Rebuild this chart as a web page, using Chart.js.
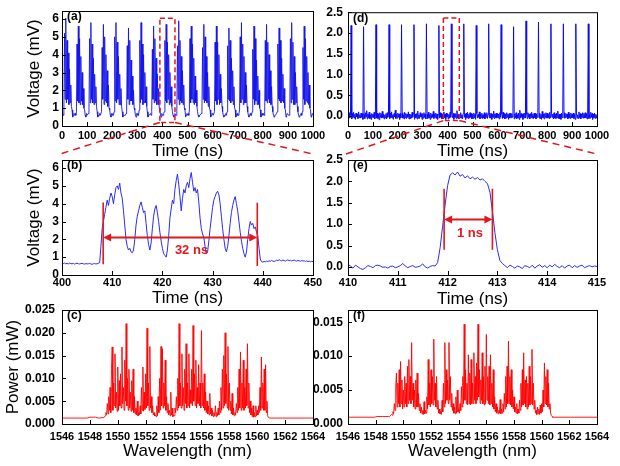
<!DOCTYPE html>
<html>
<head>
<meta charset="utf-8">
<script src="https://cdn.jsdelivr.net/npm/chart.js@4.4.1/dist/chart.umd.min.js"></script>
<style>
  body { margin: 0; background: #fff; }
  #wrap { position: relative; width: 620px; height: 466px; }
  #wrap canvas { position: absolute; left: 0; top: 0; }
</style>
</head>
<body>
<div id="wrap">
  <canvas id="cA" width="620" height="466"></canvas>
  <canvas id="cB" width="620" height="466"></canvas>
  <canvas id="cC" width="620" height="466"></canvas>
  <canvas id="cD" width="620" height="466"></canvas>
  <canvas id="cE" width="620" height="466"></canvas>
  <canvas id="cF" width="620" height="466"></canvas>
  <canvas id="overlay" width="620" height="466"></canvas>
</div>
<script>
// (a) chaotic pulse train, 0-1000 ns, one sample every 2.5 ns
const stepA = 2.5;
const voltA = [
  0.6,0.7,0.6,0.8, 5.2,1.5,6.05,1.3,4.8,1.5,4.1,1.2,3.2,1.3,2.3,1.1, 0.9,0.5,0.6,0.7,
  0.6,0.7,0.6,0.8, 4.6,1.4,5.6,1.3,4.9,1.2,3.9,1.4,3.0,1.2,2.1,1.0, 0.9,0.6,0.5,0.7,
  0.6,0.6,0.7,0.9, 4.9,1.3,5.8,1.5,4.6,1.3,3.8,1.2,2.9,1.3,2.2,1.1, 0.8,0.5,0.6,0.6,
  0.7,0.6,0.6,0.8, 4.4,1.5,5.7,1.2,5.0,1.4,4.0,1.3,3.1,1.1,2.3,1.0, 0.9,0.6,0.5,0.7,
  0.6,0.7,0.6,0.8, 5.0,1.4,5.8,1.3,4.7,1.5,3.9,1.2,2.9,1.2,2.1,1.1, 0.8,0.5,0.6,0.6,
  0.6,0.6,0.7,0.8, 4.5,1.5,5.5,1.2,4.8,1.4,3.7,1.4,2.8,1.2,2.0,1.0, 0.9,0.6,0.5,0.7,
  0.7,0.6,0.6,0.9, 4.8,1.3,5.8,1.5,4.6,1.2,4.0,1.3,3.0,1.3,2.2,1.1, 0.8,0.5,0.6,0.6,
  0.6,0.7,0.6,0.8, 4.3,1.5,5.6,1.3,4.9,1.4,3.8,1.2,2.9,1.2,2.1,1.0, 0.9,0.6,0.5,0.7,
  0.6,0.6,0.7,0.8, 4.8,1.4,5.7,1.3,4.7,1.5,4.0,1.2,3.0,1.3,2.2,1.1, 0.8,0.6,0.5,0.6,
  0.7,0.6,0.6,0.8, 4.5,1.5,5.9,1.2,4.8,1.4,3.9,1.3,3.1,1.2,2.3,1.0, 0.9,0.5,0.6,0.7,
  0.6,0.7,0.6,0.9, 4.9,1.3,5.6,1.5,4.6,1.3,3.8,1.2,2.8,1.3,2.0,1.1, 0.8,0.6,0.5,0.6,
  0.6,0.6,0.7,0.8, 4.4,1.5,5.7,1.3,5.0,1.4,3.9,1.3,3.0,1.1,2.2,1.0, 0.9,0.5,0.6,0.7,
  0.7,0.6,0.6,0.8, 4.7,1.4,5.6,1.2,4.7,1.5,4.0,1.2,2.9,1.3,2.1,1.1, 0.8,0.6,0.5,0.6,
  0.6,0.7,0.6,0.8, 4.5,1.5,5.5,1.4,4.8,1.3,3.8,1.4,3.1,1.2,2.2,1.0, 0.9,0.5,0.6,0.7,
  0.6,0.6,0.7,0.9, 5.0,1.3,5.8,1.5,4.6,1.2,3.9,1.3,3.0,1.3,2.3,1.1, 0.8,0.6,0.5,0.6,
  0.7,0.6,0.6,0.8, 4.3,1.5,5.6,1.2,4.9,1.4,3.7,1.2,2.8,1.2,2.0,1.0, 0.9,0.5,0.6,0.7,
  0.6,0.7,0.6,0.8, 4.8,1.4,5.7,1.3,4.7,1.5,4.0,1.3,3.1,1.2,2.2,1.1, 0.8,0.6,0.5,0.6,
  0.6,0.6,0.7,0.8, 4.6,1.5,5.5,1.4,4.8,1.3,3.8,1.4,2.9,1.3,2.1,1.0, 0.9,0.5,0.6,0.7,
  0.7,0.6,0.6,0.9, 4.9,1.3,5.8,1.5,4.7,1.2,3.9,1.2,3.0,1.3,2.2,1.1, 0.8,0.6,0.5,0.6,
  0.6,0.7,0.6,0.8, 4.4,1.5,5.6,1.2,4.9,1.4,3.9,1.3,3.0,1.2,2.3,1.0, 0.9,0.5,0.6,0.7,
  0.6
];

// (b) zoom of one pulse, 400-450 ns, one sample every 0.25 ns
const startB = 400, stepB = 0.25;
const voltB = [
  0.66,0.64,0.67,0.63,0.65,0.62,0.66,0.64,0.63,0.65,
  0.61,0.64,0.66,0.63,0.62,0.64,0.65,0.63,0.61,0.64,
  0.62,0.63,0.65,0.62,0.60,0.63,0.64,0.62,0.63,0.66,0.68,
  1.6,
  2.6,3.0,3.4,3.8, 4.2,3.9,4.3,4.6, 4.4,4.0,4.5,4.9, 5.0,4.8,5.15,4.6,
  4.3,3.6,2.8,2.0, 1.6,1.4,1.5,1.3, 1.25,1.4,2.0,2.8, 3.3,3.6,3.9,4.1,
  3.8,3.5,3.6,2.9, 2.2,1.7,1.4,1.8, 2.6,3.3,3.7,3.9, 3.5,3.0,2.4,1.9,
  1.5,1.2,1.1,1.0, 1.4,2.2,3.2,3.7, 4.2,4.0,4.8,5.3, 5.66,5.1,4.4,3.6,
  4.3,4.8,4.6,5.0, 5.2,4.9,5.4,5.75, 5.2,4.7,4.9,4.6, 4.8,4.1,3.2,2.6,
  2.3,2.1,1.6,1.2, 1.3,1.9,2.6,3.2, 3.8,4.2,4.4,4.6, 4.7,4.5,4.0,3.3,
  2.6,2.0,1.5,1.3, 1.6,2.2,2.9,3.5, 3.9,4.2,4.4,4.0, 3.6,3.0,2.4,1.9,
  1.5,1.2,1.0,1.3, 2.0,2.6,3.0,2.8, 2.9,2.6,2.7,2.4, 2.2,1.5,0.9,0.75,
  0.72,
  0.76,0.74,0.78,0.75,0.80,0.77,0.82,0.78,0.76,0.79,
  0.83,0.80,0.86,0.82,0.79,0.84,0.81,0.78,0.82,0.85,
  0.80,0.83,0.79,0.81,0.84,0.80,0.78,0.82,0.79,0.77,
  0.81,0.78,0.80,0.76,0.79,0.75,0.78,0.74,0.77,0.75
];

// (d) regular pulse train, 0-1000 ns, one sample every 2.5 ns
const stepD = 2.5;
const voltD = [
  0.03,-0.06,0.08,-0.04,0.05,2.18,-0.07,0.06,-0.03,0.09,-0.05,0.04,-0.08,0.07,-0.02,0.05,-0.06,0.10,-0.04,0.03,
  -0.05,0.07,-0.03,0.06,-0.08,2.15,0.04,-0.06,0.08,-0.02,0.13,-0.07,0.05,-0.04,0.09,-0.06,0.03,-0.08,0.06,-0.03,
  0.05,-0.04,0.09,-0.07,0.02,2.20,-0.05,0.07,-0.06,0.04,-0.09,0.08,-0.03,0.06,-0.05,0.11,-0.04,0.05,-0.07,0.03,
  -0.04,0.06,-0.07,0.08,-0.03,0.05,2.20,-0.06,0.07,-0.04,0.10,-0.05,0.03,-0.08,0.06,-0.02,0.14,-0.06,0.04,-0.05,
  0.07,-0.03,0.05,-0.08,0.06,-0.04,2.20,0.08,-0.05,0.03,-0.07,0.09,-0.04,0.06,-0.06,0.04,-0.03,0.10,-0.07,0.05,
  -0.06,0.04,-0.05,0.09,-0.03,0.07,2.20,-0.08,0.05,-0.04,0.06,-0.07,0.12,-0.05,0.03,-0.06,0.08,-0.02,0.05,-0.08,
  0.06,-0.05,0.08,-0.03,0.04,-0.07,2.22,0.05,-0.06,0.09,-0.04,0.03,-0.08,0.07,-0.05,0.04,-0.03,0.11,-0.06,0.04,
  -0.03,0.07,-0.06,0.05,-0.08,0.04,2.18,-0.05,0.08,-0.03,0.06,-0.07,0.04,-0.05,0.10,-0.04,0.05,-0.08,0.07,-0.02,
  0.05,-0.07,0.04,-0.05,0.09,-0.03,2.22,0.06,-0.04,0.07,-0.08,0.05,-0.03,0.06,-0.06,0.13,-0.05,0.04,-0.07,0.05,
  -0.04,0.08,-0.05,0.03,-0.07,0.06,2.22,-0.03,0.05,-0.08,0.07,-0.04,0.09,-0.06,0.04,-0.05,0.08,-0.03,0.06,-0.07,
  0.04,-0.06,0.07,-0.04,0.05,-0.08,2.18,0.06,-0.05,0.04,-0.03,0.10,-0.07,0.05,-0.04,0.07,-0.06,0.03,-0.05,0.08,
  -0.07,0.05,-0.03,0.08,-0.06,0.04,2.22,-0.04,0.07,-0.05,0.06,-0.08,0.04,-0.03,0.12,-0.06,0.05,-0.04,0.07,-0.05,
  0.06,-0.04,0.05,-0.07,0.08,-0.03,2.20,0.05,-0.06,0.09,-0.04,0.06,-0.07,0.04,-0.05,0.08,-0.03,0.05,-0.08,0.06,
  -0.05,0.07,-0.04,0.06,-0.03,0.10,2.15,-0.07,0.05,-0.04,0.08,-0.06,0.03,-0.05,0.07,-0.08,0.14,-0.04,0.06,-0.03,
  0.05,-0.08,0.06,-0.04,0.07,-0.05,2.29,0.04,-0.06,0.08,-0.03,0.05,-0.07,0.06,-0.04,0.09,-0.05,0.04,-0.06,0.07,
  -0.04,0.06,-0.07,0.05,-0.03,0.08,2.26,-0.05,0.07,-0.06,0.04,-0.08,0.11,-0.04,0.05,-0.07,0.06,-0.03,0.08,-0.05,
  0.07,-0.05,0.04,-0.06,0.09,-0.04,2.22,0.06,-0.03,0.05,-0.07,0.08,-0.05,0.04,-0.06,0.07,-0.04,0.12,-0.06,0.04,
  -0.06,0.05,-0.08,0.07,-0.04,0.06,2.22,-0.05,0.08,-0.04,0.06,-0.03,0.05,-0.07,0.09,-0.05,0.04,-0.06,0.07,-0.04,
  0.05,-0.04,0.07,-0.06,0.04,-0.08,2.22,0.07,-0.05,0.03,-0.06,0.10,-0.04,0.06,-0.07,0.05,-0.03,0.08,-0.05,0.06,
  -0.05,0.08,-0.04,0.06,-0.07,0.05,2.22,-0.06,0.04,-0.05,0.09,-0.03,0.06,-0.08,0.05,-0.04,0.07,-0.06,0.04,-0.05,
  0.03
];

// (e) zoom of one pulse, 410-415 ns, one sample every 0.05 ns
const startE = 410, stepE = 0.05;
const voltE = [
  0.06,0.02,-0.03,0.04,0.0,-0.04,-0.06,-0.02,0.03,0.01,
  -0.02,0.03,0.04,0.02,-0.01,0.0,-0.03,0.01,0.02,-0.02,
  0.0,0.03,0.08,0.02,-0.02,0.01,0.03,-0.01,0.0,0.02,
  0.07,0.0,-0.03,0.01,0.03,0.02,
  0.1,0.45,0.95,1.45,1.9,2.15,2.2,2.15,2.22,2.12,2.16,2.08,2.13,2.06,2.1,2.05,2.09,2.03,2.06,2.0,
  1.95,1.75,1.3,0.8,0.4,0.15,0.08,
  0.03,-0.02,0.04,0.01,-0.03,0.02,0.0,-0.04,0.03,0.01,
  -0.02,0.04,-0.03,0.02,0.05,-0.01,0.03,-0.02,0.04,0.0,
  0.06,0.01,-0.02,0.03,-0.03,0.02,0.04,-0.02,0.03,-0.01,
  0.02,0.04,-0.02,0.01,0.03,0.0,0.02,0.01
];

// (c) and (f) optical spectra: flat edges plus a 0.05 nm grid from 1549.00 to 1560.80
const specStart = 1549, specStep = 0.05;
const edgeLeftC = [1546, 1547.8, 1548.0, 1548.4, 1548.6, 1548.95];
const edgeLeftPC = [0.0013, 0.0013, 0.0015, 0.0015, 0.0013, 0.0014];
const edgeRightC = [1560.9, 1561.3, 1564];
const edgeRightPC = [0.0013, 0.0013, 0.0013];
const powerC = [
  0.0015,0.0016,0.0018,0.0025,0.0020,0.0045,0.0022,0.0060,0.0030,0.0080,0.0025,0.0120,0.0169,0.0030,0.0090,0.0040,0.0154,0.0035,0.0070,0.0028,
  0.0125,0.0030,0.0095,0.0040,0.0110,0.0035,0.0169,0.0045,0.0080,0.0030,0.0140,0.0050,0.0220,0.0040,0.0100,0.0030,0.0120,0.0035,0.0070,0.0028,
  0.0095,0.0030,0.0120,0.0025,0.0060,0.0022,0.0035,0.0020,0.0050,0.0018,0.0025,0.0020,0.0040,0.0022,0.0080,0.0030,0.0125,0.0028,0.0070,0.0032,
  0.0110,0.0035,0.0210,0.0040,0.0090,0.0030,0.0170,0.0035,0.0060,0.0025,0.0040,0.0020,0.0025,0.0018,0.0020,0.0016,0.0040,0.0018,0.0060,0.0025,
  0.0100,0.0030,0.0170,0.0040,0.0165,0.0035,0.0090,0.0040,0.0140,0.0030,0.0060,0.0025,0.0045,0.0020,0.0030,0.0018,0.0070,0.0020,0.0035,0.0016,
  0.0020,0.0018,0.0035,0.0025,0.0060,0.0030,0.0100,0.0035,0.0220,0.0040,0.0090,0.0035,0.0154,0.0040,0.0080,0.0030,0.0120,0.0045,0.0176,0.0035,
  0.0090,0.0040,0.0154,0.0035,0.0075,0.0045,0.0120,0.0040,0.0216,0.0050,0.0110,0.0040,0.0140,0.0035,0.0080,0.0045,0.0130,0.0040,0.0090,0.0035,
  0.0205,0.0040,0.0090,0.0035,0.0110,0.0030,0.0070,0.0025,0.0050,0.0022,0.0040,0.0020,0.0067,0.0022,0.0035,0.0018,0.0030,0.0016,0.0025,0.0018,
  0.0040,0.0016,0.0025,0.0018,0.0035,0.0020,0.0050,0.0025,0.0080,0.0030,0.0120,0.0035,0.0150,0.0040,0.0200,0.0045,0.0110,0.0035,0.0170,0.0030,
  0.0090,0.0030,0.0050,0.0022,0.0067,0.0020,0.0035,0.0018,0.0025,0.0020,0.0045,0.0025,0.0080,0.0030,0.0120,0.0035,0.0158,0.0030,0.0090,0.0035,
  0.0140,0.0030,0.0080,0.0035,0.0120,0.0040,0.0176,0.0035,0.0090,0.0025,0.0050,0.0020,0.0035,0.0016,0.0040,0.0015,0.0025,0.0016,0.0040,0.0018,
  0.0030,0.0020,0.0040,0.0025,0.0080,0.0030,0.0147,0.0035,0.0090,0.0030,0.0120,0.0030,0.0130,0.0025,0.0050,0.0018,0.0014
];
const edgeLeftF = [1546, 1547.9, 1548.1, 1548.5, 1548.95];
const edgeLeftPF = [0.0010, 0.0010, 0.0011, 0.0011, 0.0011];
const edgeRightF = [1560.9, 1564];
const edgeRightPF = [0.0010, 0.0010];
const powerF = [
  0.0011,0.0012,0.0012,0.0014,0.0013,0.0018,0.0015,0.0030,0.0020,0.0055,0.0075,0.0025,0.0060,0.0030,0.0080,0.0025,0.0092,0.0030,0.0065,0.0022,
  0.0050,0.0025,0.0070,0.0030,0.0060,0.0025,0.0085,0.0030,0.0095,0.0035,0.0070,0.0030,0.0120,0.0035,0.0060,0.0025,0.0050,0.0022,0.0065,0.0025,
  0.0075,0.0025,0.0045,0.0020,0.0030,0.0016,0.0025,0.0015,0.0020,0.0014,0.0033,0.0015,0.0020,0.0016,0.0040,0.0022,0.0095,0.0028,0.0060,0.0025,
  0.0080,0.0030,0.0070,0.0028,0.0125,0.0035,0.0060,0.0025,0.0070,0.0022,0.0035,0.0016,0.0022,0.0015,0.0018,0.0014,0.0035,0.0018,0.0060,0.0025,
  0.0120,0.0030,0.0080,0.0035,0.0065,0.0030,0.0120,0.0035,0.0070,0.0025,0.0045,0.0020,0.0030,0.0016,0.0025,0.0015,0.0040,0.0016,0.0050,0.0018,
  0.0022,0.0016,0.0030,0.0020,0.0055,0.0025,0.0070,0.0030,0.0147,0.0035,0.0080,0.0030,0.0060,0.0028,0.0102,0.0030,0.0075,0.0028,0.0095,0.0030,
  0.0060,0.0030,0.0105,0.0035,0.0070,0.0030,0.0090,0.0035,0.0147,0.0040,0.0080,0.0030,0.0065,0.0035,0.0105,0.0030,0.0070,0.0028,0.0085,0.0030,
  0.0132,0.0035,0.0070,0.0030,0.0085,0.0028,0.0102,0.0030,0.0060,0.0025,0.0080,0.0022,0.0040,0.0018,0.0030,0.0016,0.0025,0.0015,0.0020,0.0016,
  0.0036,0.0015,0.0022,0.0016,0.0030,0.0018,0.0045,0.0022,0.0070,0.0025,0.0085,0.0030,0.0122,0.0030,0.0070,0.0028,0.0080,0.0025,0.0050,0.0022,
  0.0040,0.0018,0.0025,0.0016,0.0030,0.0015,0.0022,0.0016,0.0035,0.0020,0.0060,0.0025,0.0080,0.0028,0.0105,0.0030,0.0065,0.0025,0.0070,0.0022,
  0.0060,0.0025,0.0085,0.0028,0.0070,0.0030,0.0110,0.0028,0.0060,0.0022,0.0035,0.0016,0.0020,0.0014,0.0025,0.0015,0.0022,0.0014,0.0028,0.0016,
  0.0030,0.0018,0.0050,0.0025,0.0090,0.0030,0.0070,0.0028,0.0080,0.0025,0.0060,0.0022,0.0030,0.0016,0.0012,0.0011,0.0010
];

// annotation positions, in data units
const boxA = { x1: 390, x2: 450, y1: 0.2, y2: 6.04 };
const boxD = { x1: 383, x2: 447, y1: -0.11, y2: 2.36 };
const markB = { x1: 408.2, x2: 438.9, top1: 4.07, bot1: 0.6, top2: 4.05, bot2: 0.5, arrowY: 2.1, textX: 425.8, textY: 1.37, text: '32 ns' };
const markE = { x1: 411.93, x2: 412.9, top1: 1.83, bot1: 0.4, top2: 1.83, bot2: 0.4, arrowY: 1.11, textX: 412.45, textY: 0.78, text: '1 ns' };

const FONT = "'Liberation Sans', Arial, Helvetica, sans-serif";
const RED = '#e3161c';

function uniform(values, start, step) {
  return values.map((y, i) => ({ x: start + i * step, y }));
}

function spectrum(leftX, leftY, core, rightX, rightY) {
  const pts = leftX.map((x, i) => ({ x, y: leftY[i] }));
  core.forEach((y, i) => pts.push({ x: specStart + i * specStep, y }));
  rightX.forEach((x, i) => pts.push({ x, y: rightY[i] }));
  return pts;
}

function drawMark(ctx, s, m) {
  const x1 = s.x.getPixelForValue(m.x1);
  const x2 = s.x.getPixelForValue(m.x2);
  const ya = s.y.getPixelForValue(m.arrowY);
  ctx.strokeStyle = RED;
  ctx.fillStyle = RED;
  ctx.lineWidth = 1.6;
  ctx.beginPath();
  ctx.moveTo(x1, s.y.getPixelForValue(m.top1));
  ctx.lineTo(x1, s.y.getPixelForValue(m.bot1));
  ctx.moveTo(x2, s.y.getPixelForValue(m.top2));
  ctx.lineTo(x2, s.y.getPixelForValue(m.bot2));
  ctx.stroke();
  ctx.lineWidth = 2;
  ctx.beginPath();
  ctx.moveTo(x1 + 6, ya);
  ctx.lineTo(x2 - 6, ya);
  ctx.stroke();
  ctx.beginPath();
  ctx.moveTo(x1, ya); ctx.lineTo(x1 + 8, ya - 4); ctx.lineTo(x1 + 8, ya + 4); ctx.closePath();
  ctx.moveTo(x2, ya); ctx.lineTo(x2 - 8, ya - 4); ctx.lineTo(x2 - 8, ya + 4); ctx.closePath();
  ctx.fill();
  ctx.font = 'bold 13px ' + FONT;
  ctx.textAlign = 'center';
  ctx.textBaseline = 'middle';
  ctx.fillText(m.text, s.x.getPixelForValue(m.textX), s.y.getPixelForValue(m.textY));
}

function drawBox(ctx, s, b) {
  const x1 = s.x.getPixelForValue(b.x1), x2 = s.x.getPixelForValue(b.x2);
  const y1 = s.y.getPixelForValue(b.y1), y2 = s.y.getPixelForValue(b.y2);
  ctx.strokeStyle = RED;
  ctx.lineWidth = 1.5;
  ctx.setLineDash([5, 3]);
  ctx.strokeRect(x1, y2, x2 - x1, y1 - y2);
  ctx.setLineDash([]);
}

function deco(label, extra) {
  return {
    id: 'deco',
    afterDraw(chart) {
      const { ctx, chartArea: a, scales } = chart;
      ctx.save();
      ctx.strokeStyle = '#000';
      ctx.lineWidth = 1;
      ctx.strokeRect(a.left + 0.5, a.top + 0.5, a.right - a.left, a.bottom - a.top);
      ctx.beginPath();
      scales.x.ticks.forEach((t) => {
        const px = Math.round(scales.x.getPixelForValue(t.value)) + 0.5;
        ctx.moveTo(px, a.bottom); ctx.lineTo(px, a.bottom - 4);
      });
      scales.y.ticks.forEach((t) => {
        const py = Math.round(scales.y.getPixelForValue(t.value)) + 0.5;
        ctx.moveTo(a.left, py); ctx.lineTo(a.left + 4, py);
      });
      ctx.stroke();
      ctx.fillStyle = '#000';
      ctx.font = 'bold 12px ' + FONT;
      ctx.textBaseline = 'middle';
      ctx.fillText(label, a.left + 5, a.top + 6);
      if (extra) extra(ctx, scales);
      ctx.restore();
    }
  };
}

function panel(id, o) {
  return new Chart(document.getElementById(id), {
    type: 'line',
    data: {
      datasets: [{
        data: o.points,
        borderColor: o.color,
        borderWidth: o.width,
        pointRadius: 0,
        tension: 0,
        fill: false
      }]
    },
    options: {
      responsive: false,
      animation: false,
      devicePixelRatio: 1,
      events: [],
      layout: { padding: { left: o.yLeft, top: o.area[1], right: 620 - o.area[2], bottom: 466 - o.xBottom } },
      plugins: { legend: { display: false }, tooltip: { enabled: false } },
      scales: {
        x: {
          type: 'linear',
          min: o.x[0], max: o.x[1],
          afterFit: (s) => { s.height = o.xBottom - o.area[3]; },
          ticks: {
            stepSize: o.x[2], autoSkip: false, maxRotation: 0, includeBounds: false,
            padding: o.xPad, color: '#000',
            font: { family: FONT, size: 11, weight: 'bold' },
            callback: (v) => String(v)
          },
          grid: { display: false, drawTicks: false },
          border: { display: false },
          title: { display: true, text: o.xTitle, color: '#000', padding: 0, font: { family: FONT, size: 17 } }
        },
        y: {
          min: o.y[0], max: o.y[1],
          afterFit: (s) => { s.width = o.area[0] - o.yLeft; },
          ticks: {
            stepSize: o.y[2], includeBounds: false,
            padding: o.yPad, color: '#000',
            font: { family: FONT, size: 12, weight: 'bold' },
            callback: (v) => v.toFixed(o.y[3])
          },
          grid: { display: false, drawTicks: false },
          border: { display: false },
          title: { display: !!o.yTitle, text: o.yTitle || '', color: '#000', padding: 0, font: { family: FONT, size: 17 } }
        }
      }
    },
    plugins: [deco(o.label, o.extra)]
  });
}

const chartA = panel('cA', {
  points: uniform(voltA, 0, stepA), color: 'rgba(20,20,235,0.9)', width: 1,
  area: [62, 11, 313, 126], yLeft: 24, xBottom: 162,
  x: [0, 1000, 100], y: [0, 6.45, 1, 0], xPad: 3, yPad: 3,
  xTitle: 'Time (ns)', yTitle: 'Voltage (mV)', label: '(a)',
  extra: (ctx, s) => drawBox(ctx, s, boxA)
});

const chartB = panel('cB', {
  points: uniform(voltB, startB, stepB), color: '#2a2aff', width: 1,
  area: [62, 160, 313, 275], yLeft: 24, xBottom: 309,
  x: [400, 450, 10], y: [0, 6.45, 1, 0], xPad: 1, yPad: 3,
  xTitle: 'Time (ns)', yTitle: 'Voltage (mV)', label: '(b)',
  extra: (ctx, s) => drawMark(ctx, s, markB)
});

const chartC = panel('cC', {
  points: spectrum(edgeLeftC, edgeLeftPC, powerC, edgeRightC, edgeRightPC), color: 'rgba(255,0,0,0.9)', width: 1,
  area: [62, 310, 313, 424], yLeft: 3, xBottom: 462,
  x: [1546, 1564, 2], y: [0, 0.025, 0.005, 3], xPad: 6, yPad: 7,
  xTitle: 'Wavelength (nm)', yTitle: 'Power (mW)', label: '(c)'
});

const chartD = panel('cD', {
  points: uniform(voltD, 0, stepD), color: '#0a0aff', width: 1,
  area: [348, 11, 597, 126], yLeft: 303, xBottom: 162,
  x: [0, 1000, 100], y: [-0.24, 2.5, 0.5, 1], xPad: 3, yPad: 5,
  xTitle: 'Time (ns)', label: '(d)',
  extra: (ctx, s) => drawBox(ctx, s, boxD)
});

const chartE = panel('cE', {
  points: uniform(voltE, startE, stepE), color: '#2a2aff', width: 1,
  area: [348, 160, 597, 275], yLeft: 303, xBottom: 310,
  x: [410, 415, 1], y: [-0.19, 2.5, 0.5, 1], xPad: 1, yPad: 5,
  xTitle: 'Time (ns)', label: '(e)',
  extra: (ctx, s) => drawMark(ctx, s, markE)
});

const chartF = panel('cF', {
  points: spectrum(edgeLeftF, edgeLeftPF, powerF, edgeRightF, edgeRightPF), color: 'rgba(255,0,0,0.9)', width: 1,
  area: [348, 310, 597, 424], yLeft: 303, xBottom: 462,
  x: [1546, 1564, 2], y: [0, 0.0168, 0.005, 3], xPad: 6, yPad: 5,
  xTitle: 'Wavelength (nm)', label: '(f)'
});

// dashed connectors from the boxes in (a)/(d) down to the zoomed panels
function connect(ctx, top, box, bottom) {
  const s = top.scales;
  const y = s.y.getPixelForValue(box.y1);
  const a = bottom.chartArea;
  ctx.beginPath();
  ctx.moveTo(s.x.getPixelForValue(box.x1), y);
  ctx.lineTo(a.left - 2, a.top - 6);
  ctx.moveTo(s.x.getPixelForValue(box.x2), y);
  ctx.lineTo(a.right, a.top - 6);
  ctx.stroke();
}

const ov = document.getElementById('overlay').getContext('2d');
ov.strokeStyle = RED;
ov.lineWidth = 1.5;
ov.setLineDash([7, 5]);
connect(ov, chartA, boxA, chartB);
connect(ov, chartD, boxD, chartE);
</script>
</body>
</html>
